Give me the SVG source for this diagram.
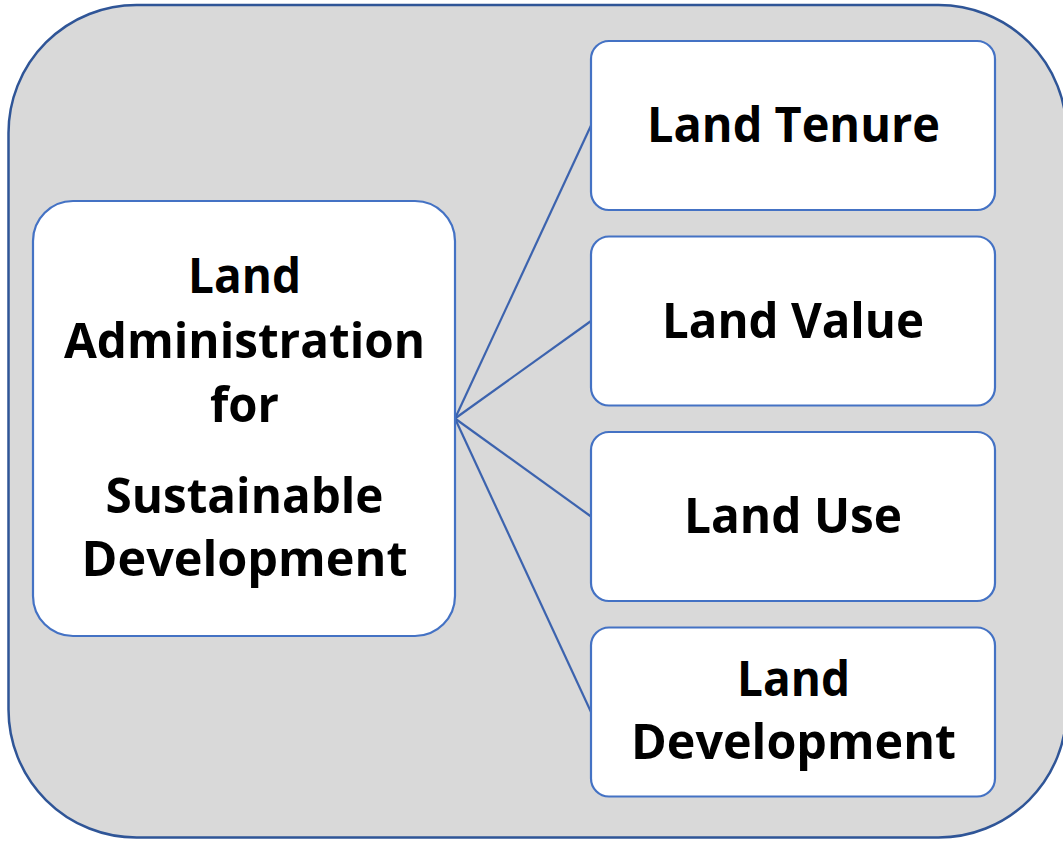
<svg xmlns="http://www.w3.org/2000/svg" width="1063" height="843" viewBox="0 0 1063 843">
<style>
.bg{fill:#D9D9D9;stroke:#2F5597;stroke-width:2.5}
.box{fill:#FFFFFF;stroke:#4472C4;stroke-width:2.2}
.lnk{stroke:#3C63AE;stroke-width:2.2;fill:none}
.t{font-family:"Open Sans","Noto Sans",sans-serif;font-weight:700;font-size:49px;fill:#000;text-anchor:middle}
</style>
<rect class="bg" x="8.5" y="5" width="1058" height="832.5" rx="128" ry="128"/>
<g id="connectors">
<line class="lnk" x1="455" y1="418.5" x2="591" y2="125.5"/>
<line class="lnk" x1="455" y1="418.5" x2="591" y2="321"/>
<line class="lnk" x1="455" y1="418.5" x2="591" y2="516.5"/>
<line class="lnk" x1="455" y1="418.5" x2="591" y2="712"/>
</g>
<g id="main">
<rect class="box" x="33" y="201" width="422" height="435" rx="40" ry="40"/>
<text class="t" x="244.5" y="293" textLength="113" lengthAdjust="spacingAndGlyphs">Land</text>
<text class="t" x="244.5" y="358" textLength="361" lengthAdjust="spacingAndGlyphs">Administration</text>
<text class="t" x="244.5" y="422" textLength="69" lengthAdjust="spacingAndGlyphs">for</text>
<text class="t" x="244.5" y="513" textLength="278" lengthAdjust="spacingAndGlyphs">Sustainable</text>
<text class="t" x="244.5" y="576" textLength="326" lengthAdjust="spacingAndGlyphs">Development</text>
</g>
<g id="tenure">
<rect class="box" x="591" y="41" width="404" height="169" rx="18" ry="18"/>
<text class="t" x="793.5" y="142" textLength="293" lengthAdjust="spacingAndGlyphs">Land Tenure</text>
</g>
<g id="value">
<rect class="box" x="591" y="236.5" width="404" height="169" rx="18" ry="18"/>
<text class="t" x="793" y="338" textLength="262" lengthAdjust="spacingAndGlyphs">Land Value</text>
</g>
<g id="use">
<rect class="box" x="591" y="432" width="404" height="169" rx="18" ry="18"/>
<text class="t" x="793" y="533" textLength="218" lengthAdjust="spacingAndGlyphs">Land Use</text>
</g>
<g id="development">
<rect class="box" x="591" y="627.5" width="404" height="169" rx="18" ry="18"/>
<text class="t" x="793.5" y="696" textLength="113" lengthAdjust="spacingAndGlyphs">Land</text>
<text class="t" x="793.5" y="759" textLength="325" lengthAdjust="spacingAndGlyphs">Development</text>
</g>
</svg>
